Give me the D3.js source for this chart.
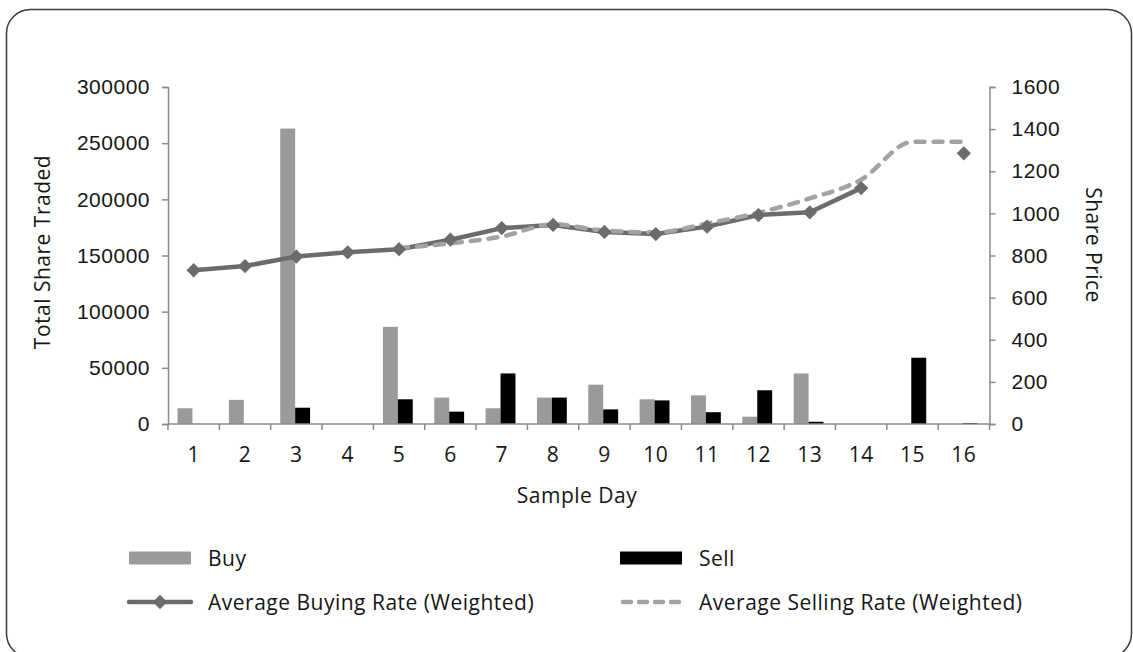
<!DOCTYPE html>
<html>
<head>
<meta charset="utf-8">
<script src="https://cdn.jsdelivr.net/npm/d3@7"></script>
<style>
  html, body { margin: 0; padding: 0; background: #fff; }
  svg { display: block; font-family: "Open Sans", "Liberation Sans", sans-serif; }
  svg text { letter-spacing: 0.5px; }
</style>
</head>
<body>
<svg id="chart" width="1133" height="652"></svg>
<script>
// Sample days and traded volumes
const days = ["1","2","3","4","5","6","7","8","9","10","11","12","13","14","15","16"];
const buyVolume  = [14000, 21500, 263000, 0, 86500, 23500, 14000, 23500, 35000, 22000, 25500, 6500, 45000, 0, 0, 0];
const sellVolume = [0, 0, 14500, 0, 22000, 11000, 45000, 23500, 13000, 21000, 10500, 30000, 2000, 0, 59000, 800];

// Weighted average rates (null = no trades that day)
const avgBuyRate  = [730, 750, 795, 815, 830, 875, 930, 945, 912, 902, 937, 992, 1005, 1120, null, 1285];
const avgSellRate = [null, null, null, null, 835, 858, 890, 948, 918, 910, 952, 1003, 1071, 1160, 1340, 1340];

// Axis ticks
const volumeTicks = [0, 50000, 100000, 150000, 200000, 250000, 300000];
const priceTicks  = [0, 200, 400, 600, 800, 1000, 1200, 1400, 1600];

const svg = d3.select("#chart");

// outer rounded frame
svg.append("rect")
  .attr("x", 6.5).attr("y", 9.5)
  .attr("width", 1125).attr("height", 648)
  .attr("rx", 24).attr("ry", 24)
  .attr("fill", "#fff").attr("stroke", "#3a3a3a").attr("stroke-width", 1.5);

const plot = { left: 168, right: 989.5, top: 87, bottom: 424 };

const x = d3.scaleBand().domain(days).range([plot.left, plot.right]).paddingInner(0).paddingOuter(0);
const xInner = d3.scaleBand().domain(["buy", "sell"]).range([0, x.bandwidth()]).paddingInner(0).paddingOuter(0.72);
const yVol = d3.scaleLinear().domain([0, 300000]).range([plot.bottom, plot.top]);
const yPrice = d3.scaleLinear().domain([0, 1600]).range([plot.bottom, plot.top]);

const axisColor = "#8a8a8a";
const textColor = "#161616";
const fontSize = 21;

// bars
const barData = days.map((d, i) => ({ day: d, buy: buyVolume[i], sell: sellVolume[i] }));
const groups = svg.append("g").selectAll("g").data(barData).join("g")
  .attr("transform", d => `translate(${x(d.day) - 1.2},0)`);
groups.selectAll("rect")
  .data(d => [{ key: "buy", v: d.buy }, { key: "sell", v: d.sell }])
  .join("rect")
  .attr("x", d => xInner(d.key))
  .attr("width", xInner.bandwidth())
  .attr("y", d => yVol(d.v))
  .attr("height", d => yVol(0) - yVol(d.v))
  .attr("fill", d => d.key === "buy" ? "#9a9a9a" : "#000");

// axes
function styleAxis(g) {
  g.selectAll(".domain").attr("stroke", axisColor).attr("stroke-width", 1.5);
  g.selectAll(".tick line").attr("stroke", axisColor).attr("stroke-width", 1.5);
  g.selectAll(".tick text").attr("fill", textColor).style("font-size", fontSize + "px");
}

const gLeft = svg.append("g").attr("transform", `translate(${plot.left},0)`)
  .call(d3.axisLeft(yVol).tickValues(volumeTicks).tickFormat(d3.format("d")).tickSizeInner(6).tickSizeOuter(6).tickPadding(12));
styleAxis(gLeft);

const gRight = svg.append("g").attr("transform", `translate(${plot.right},0)`)
  .call(d3.axisRight(yPrice).tickValues(priceTicks).tickFormat(d3.format("d")).tickSizeInner(6).tickSizeOuter(6).tickPadding(16));
styleAxis(gRight);

// bottom axis: ticks on band boundaries, labels centred in bands
const boundaries = d3.range(days.length + 1).map(i => plot.left + i * x.step());
const gBottom = svg.append("g");
gBottom.append("line")
  .attr("x1", plot.left).attr("x2", plot.right)
  .attr("y1", plot.bottom).attr("y2", plot.bottom)
  .attr("stroke", axisColor).attr("stroke-width", 1.5);
gBottom.selectAll("line.tk").data(boundaries).join("line").attr("class", "tk")
  .attr("x1", d => d).attr("x2", d => d)
  .attr("y1", plot.bottom).attr("y2", plot.bottom + 6)
  .attr("stroke", axisColor).attr("stroke-width", 1.5);
gBottom.selectAll("text").data(days).join("text")
  .attr("x", d => x(d) + x.bandwidth() / 2)
  .attr("y", 461.5)
  .attr("text-anchor", "middle")
  .attr("fill", textColor)
  .style("font-size", fontSize + "px")
  .text(d => d);

// axis titles
svg.append("text")
  .attr("x", 577).attr("y", 503)
  .attr("text-anchor", "middle").attr("fill", textColor)
  .style("font-size", fontSize + "px")
  .text("Sample Day");

svg.append("text")
  .attr("transform", "translate(50,252) rotate(-90)")
  .attr("text-anchor", "middle").attr("fill", textColor)
  .style("font-size", fontSize + "px")
  .text("Total Share Traded");

svg.append("text")
  .attr("transform", "translate(1086,245) rotate(90)")
  .attr("text-anchor", "middle").attr("fill", textColor)
  .style("font-size", fontSize + "px")
  .text("Share Price");

// rate lines
const cx = d => x(d) + x.bandwidth() / 2;
const buyPts = days.map((d, i) => ({ day: d, v: avgBuyRate[i] }));
const sellPts = days.map((d, i) => ({ day: d, v: avgSellRate[i] }));

const buyLine = d3.line().defined(d => d.v != null).x(d => cx(d.day)).y(d => yPrice(d.v));
const sellLine = d3.line().defined(d => d.v != null).x(d => cx(d.day)).y(d => yPrice(d.v)).curve(d3.curveMonotoneX);

const buyColor = "#6b6b6b";
const sellColor = "#a3a3a3";

svg.append("path").datum(buyPts)
  .attr("d", buyLine)
  .attr("fill", "none").attr("stroke", buyColor).attr("stroke-width", 4.5)
  .attr("stroke-linejoin", "round");

svg.append("path").datum(sellPts)
  .attr("d", sellLine)
  .attr("fill", "none").attr("stroke", sellColor).attr("stroke-width", 4.5)
  .attr("stroke-dasharray", "9,9").attr("stroke-linecap", "round");

const diamond = d3.symbol().type(d3.symbolDiamond2).size(130);
svg.append("g").selectAll("path").data(buyPts.filter(d => d.v != null)).join("path")
  .attr("transform", d => `translate(${cx(d.day)},${yPrice(d.v)})`)
  .attr("d", diamond)
  .attr("fill", buyColor);

// legend
const legend = svg.append("g");
const legendItems = [
  { label: "Buy", kind: "bar", color: "#9a9a9a", x: 129, y: 558 },
  { label: "Sell", kind: "bar", color: "#000", x: 620, y: 558 },
  { label: "Average Buying Rate (Weighted)", kind: "line", color: buyColor, x: 129, y: 602 },
  { label: "Average Selling Rate (Weighted)", kind: "dash", color: sellColor, x: 620, y: 602 }
];
legendItems.forEach(it => {
  const g = legend.append("g");
  if (it.kind === "bar") {
    g.append("rect").attr("x", it.x).attr("y", it.y - 6.5).attr("width", 62).attr("height", 13).attr("fill", it.color);
  } else if (it.kind === "line") {
    g.append("line").attr("x1", it.x).attr("x2", it.x + 62).attr("y1", it.y).attr("y2", it.y)
      .attr("stroke", it.color).attr("stroke-width", 4.5).attr("stroke-linecap", "round");
    g.append("path").attr("transform", `translate(${it.x + 31},${it.y})`).attr("d", diamond).attr("fill", it.color);
  } else {
    g.append("line").attr("x1", it.x + 3).attr("x2", it.x + 60).attr("y1", it.y).attr("y2", it.y)
      .attr("stroke", it.color).attr("stroke-width", 4.5).attr("stroke-linecap", "round")
      .attr("stroke-dasharray", "8,8");
  }
  g.append("text")
    .attr("x", it.x + 79).attr("y", it.y + 8)
    .attr("fill", textColor)
    .style("font-size", fontSize + "px")
    .text(it.label);
});
</script>
</body>
</html>
